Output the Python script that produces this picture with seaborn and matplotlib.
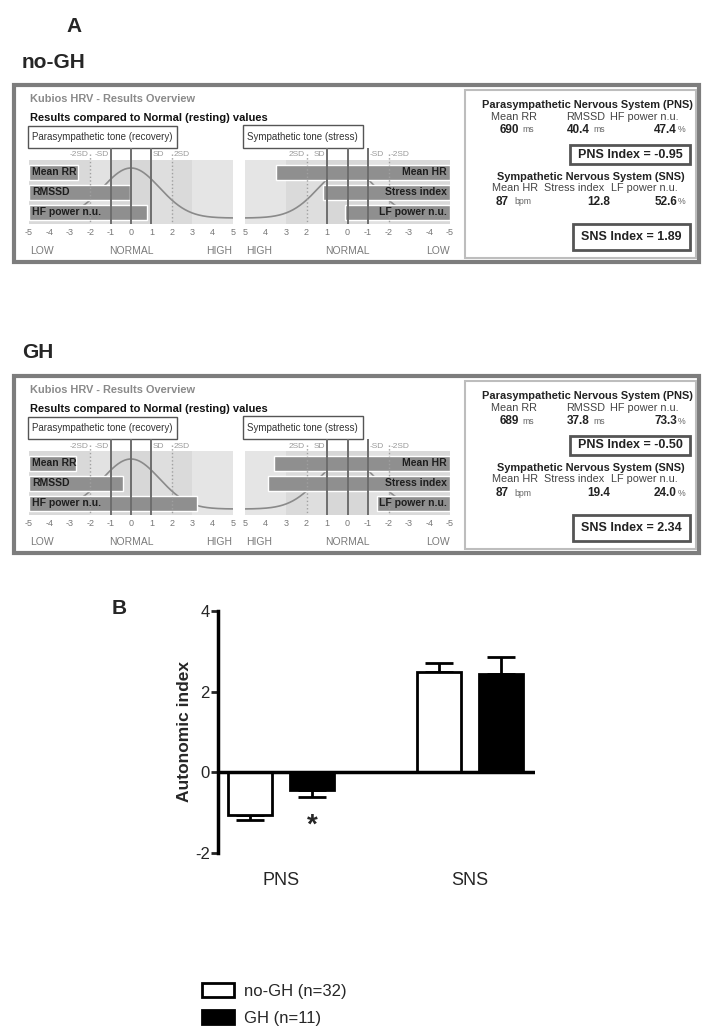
import numpy as np
import pandas as pd
import seaborn as sns
import matplotlib.pyplot as plt
from matplotlib.patches import Rectangle

sns.set_theme(style='white')
plt.rcParams['font.family'] = ['Liberation Sans', 'DejaVu Sans']

# ---- panel A data (Kubios HRV z-scores and results) ----
groups = ['no-GH', 'GH']
pns_params = ['Mean RR', 'RMSSD', 'HF power n.u.']
sns_params = ['Mean HR', 'Stress index', 'LF power n.u.']
pns_z = [[-2.6, -0.05, 0.8], [-2.7, -0.4, 3.25]]
sns_z = [[3.5, 1.2, 0.1], [3.6, 3.9, -1.45]]
mean_rr = [690, 689]
rmssd = [40.4, 37.8]
hf_nu = [47.4, 73.3]
mean_hr = [87, 87]
stress_index = [12.8, 19.4]
lf_nu = [52.6, 24.0]
pns_index = [-0.95, -0.50]
sns_index = [1.89, 2.34]

# ---- panel B data ----
systems = ['PNS', 'SNS']
legend_labels = ['no-GH (n=32)', 'GH (n=11)']
mean_nogh = [-1.05, 2.50]
sem_nogh = [0.12, 0.22]
mean_gh = [-0.43, 2.45]
sem_gh = [0.18, 0.40]

W, H = 712, 1035
fig = plt.figure(figsize=(W / 100, H / 100), dpi=100)

# overlay axes in pixel coordinates for frames and texts
ov = fig.add_axes([0, 0, 1, 1])
ov.set_xlim(0, W)
ov.set_ylim(H, 0)
ov.axis('off')


def fig_axes(x0, y0, x1, y1):
    return fig.add_axes([x0 / W, 1 - y1 / H, (x1 - x0) / W, (y1 - y0) / H])


def tone_chart(ax, z, labels, reverse):
    zones = [(-5, -2, '#d9d9d9'), (-2, -1, '#e2e2e2'), (-1, 1, '#d7d7d7'),
             (1, 2, '#dedede'), (2, 3, '#dadada'), (3, 5, '#e5e5e5')]
    frac = 64 / 76
    for a, b, c in zones:
        ax.axvspan(a, b, ymin=0, ymax=frac, color=c, lw=0, zorder=0)
    xs = np.linspace(-5, 5, 300)
    ax.plot(xs, 58 - 50 * np.exp(-xs ** 2 / (2 * 1.4 ** 2)), color='#8a8a8a', lw=1.2, zorder=1)
    rows = [12, 32, 52]
    ax.barh(rows, [v + 5 for v in z], left=-5, height=15, color='#8f8f8f', zorder=2)
    for y, lab in zip(rows, labels):
        ax.text(-4.85, y, lab, ha='right' if reverse else 'left', va='center',
                fontsize=7.5, weight='bold', color='#1e1e1e', zorder=4)
    for v in (-1, 0, 1):
        ax.axvline(v, color='#6e6e6e', lw=1.4, zorder=3)
    for v in (-2, 2):
        ax.plot([v, v], [-6, 64], color='#a0a0a0', lw=1, ls=':', zorder=3)
    sd = [(-2, '-2SD', 'right'), (-1, '-SD', 'right'), (1, 'SD', 'left'), (2, '2SD', 'left')]
    for v, s, ha in sd:
        if reverse:
            ha = 'left' if ha == 'right' else 'right'
        off = 0.08 if ha == 'left' else -0.08
        if reverse:
            off = -off
        ax.text(v + off, -5, s, ha=ha, va='center', fontsize=6, color='#9a9a9a')
    ax.set_xlim((5, -5) if reverse else (-5, 5))
    ax.set_ylim(64, -12)
    ax.set_xticks(range(-5, 6))
    ax.set_xticklabels([str(t) for t in range(-5, 6)])
    ax.tick_params(axis='x', length=0, labelsize=6.5, labelcolor='#777777', pad=3)
    ax.set_yticks([])
    for sp in ax.spines.values():
        sp.set_visible(False)
    ax.patch.set_alpha(0)


def kubios(top, g):
    ov.add_patch(Rectangle((14, top), 685, 177, fill=False, ec='#7d7d7d', lw=3))
    ov.text(30, top + 14, 'Kubios HRV - Results Overview', color='#8a8a8a',
            weight='bold', fontsize=7.9, va='center')
    ov.text(30, top + 33, 'Results compared to Normal (resting) values',
            weight='bold', fontsize=8, va='center', color='#111111')
    ov.add_patch(Rectangle((28, top + 41), 149, 22, fill=False, ec='#555555', lw=1))
    ov.text(32, top + 52, 'Parasympathetic tone (recovery)', fontsize=7,
            va='center', color='#333333')
    ov.add_patch(Rectangle((243, top + 40), 120, 23, fill=False, ec='#555555', lw=1))
    ov.text(247, top + 52, 'Sympathetic tone (stress)', fontsize=7,
            va='center', color='#333333')

    tone_chart(fig_axes(29, top + 63, 233, top + 139), pns_z[g], pns_params, False)
    tone_chart(fig_axes(245, top + 63, 450, top + 139), sns_z[g], sns_params, True)

    for x, s, ha in [(30, 'LOW', 'left'), (131, 'NORMAL', 'center'), (232, 'HIGH', 'right'),
                     (246, 'HIGH', 'left'), (347, 'NORMAL', 'center'), (450, 'LOW', 'right')]:
        ov.text(x, top + 166, s, ha=ha, va='center', fontsize=7.5, color='#7a7a7a')

    # results box
    ov.add_patch(Rectangle((465, top + 5), 231, 168, fill=False, ec='#bdbdbd', lw=1.5))
    hd = dict(ha='center', va='center', fontsize=7.9, weight='bold', color='#222222')
    lb = dict(ha='center', va='center', fontsize=7.8, color='#444444')
    vb = dict(va='center', fontsize=8.5, weight='bold', color='#222222')
    un = dict(ha='left', va='center', fontsize=6.3, color='#666666')
    ov.text(587, top + 20, 'Parasympathetic Nervous System (PNS)', **hd)
    ov.text(514, top + 32, 'Mean RR', **lb)
    ov.text(586, top + 32, 'RMSSD', **lb)
    ov.text(644, top + 32, 'HF power n.u.', **lb)
    ov.text(519, top + 45, f'{mean_rr[g]}', ha='right', **vb)
    ov.text(522, top + 45, 'ms', **un)
    ov.text(590, top + 45, f'{rmssd[g]:.1f}', ha='right', **vb)
    ov.text(593, top + 45, 'ms', **un)
    ov.text(677, top + 45, f'{hf_nu[g]:.1f}', ha='right', **vb)
    ov.text(678, top + 45, '%', **un)
    ov.add_patch(Rectangle((570, top + 60), 120, 19, fill=False, ec='#555555', lw=2))
    ov.text(630, top + 69.5, f'PNS Index = {pns_index[g]:.2f}', ha='center', va='center',
            fontsize=9, weight='bold', color='#222222')

    ov.text(591, top + 92, 'Sympathetic Nervous System (SNS)', **hd)
    ov.text(515, top + 103, 'Mean HR', **lb)
    ov.text(574, top + 103, 'Stress index', **lb)
    ov.text(644, top + 103, 'LF power n.u.', **lb)
    ov.text(509, top + 117, f'{mean_hr[g]}', ha='right', **vb)
    ov.text(514, top + 117, 'bpm', **un)
    ov.text(599, top + 117, f'{stress_index[g]:.1f}', ha='center', **vb)
    ov.text(677, top + 117, f'{lf_nu[g]:.1f}', ha='right', **vb)
    ov.text(678, top + 117, '%', **un)
    ov.add_patch(Rectangle((573, top + 139), 117, 26, fill=False, ec='#555555', lw=2))
    ov.text(631, top + 152, f'SNS Index = {sns_index[g]:.2f}', ha='center', va='center',
            fontsize=9, weight='bold', color='#222222')


ov.text(74, 26, 'A', ha='center', va='center', fontsize=15, weight='bold')
ov.text(22, 62, 'no-GH', ha='left', va='center', fontsize=15, weight='bold')
kubios(85, 0)
ov.text(22, 352, 'GH', ha='left', va='center', fontsize=15, weight='bold')
kubios(376, 1)

# ---- panel B ----
ov.text(112, 608, 'B', ha='left', va='center', fontsize=15, weight='bold')
df = pd.DataFrame({
    'system': systems * 2,
    'group': [legend_labels[0]] * 2 + [legend_labels[1]] * 2,
    'value': mean_nogh + mean_gh,
})
axb = fig_axes(218, 611, 535, 853)
sns.barplot(data=df, x='system', y='value', hue='group', hue_order=legend_labels,
            palette=['white', 'black'], edgecolor='black', linewidth=2,
            width=0.656, gap=0.29, errorbar=None, legend=False, ax=axb)
for cont, sems in zip(axb.containers, [sem_nogh, sem_gh]):
    for bar, s in zip(cont, sems):
        h = bar.get_height()
        x = bar.get_x() + bar.get_width() / 2
        yerr = [[s], [0]] if h < 0 else [[0], [s]]
        axb.errorbar(x, h, yerr=yerr, color='black', capsize=10, elinewidth=2,
                     capthick=2, zorder=0.5)
gh_pns = axb.containers[1][0]
axb.text(gh_pns.get_x() + gh_pns.get_width() / 2, mean_gh[0] - sem_gh[0] - 0.72, '*',
         ha='center', va='center', fontsize=20, weight='bold')
axb.axhline(0, color='black', lw=2.5, zorder=3)
axb.set_xlim(-0.333, 1.344)
axb.set_ylim(-2, 4)
axb.set_yticks([-2, 0, 2, 4])
axb.set_yticklabels(['-2', '0', '2', '4'])
axb.tick_params(axis='y', left=True, length=5, width=2, labelsize=12, pad=1)
axb.tick_params(axis='x', bottom=False, length=0, labelsize=13, pad=14)
axb.set_xlabel('')
axb.set_ylabel('Autonomic index', fontsize=12.5, weight='bold', labelpad=2)
for side in ['top', 'right', 'bottom']:
    axb.spines[side].set_visible(False)
axb.spines['left'].set_linewidth(2.5)
axb.spines['left'].set_color('black')
axb.patch.set_alpha(0)

handles = [Rectangle((0, 0), 1, 1, fc='white', ec='black', lw=2),
           Rectangle((0, 0), 1, 1, fc='black', ec='black', lw=2)]
fig.legend(handles, legend_labels, loc='upper left', bbox_to_anchor=(202 / W, 1 - 983 / H),
           frameon=False, fontsize=12, handlelength=1.9, handleheight=0.9,
           handletextpad=0.6, labelspacing=0.7, borderaxespad=0, borderpad=0)

fig.savefig('out.png', dpi=100)
